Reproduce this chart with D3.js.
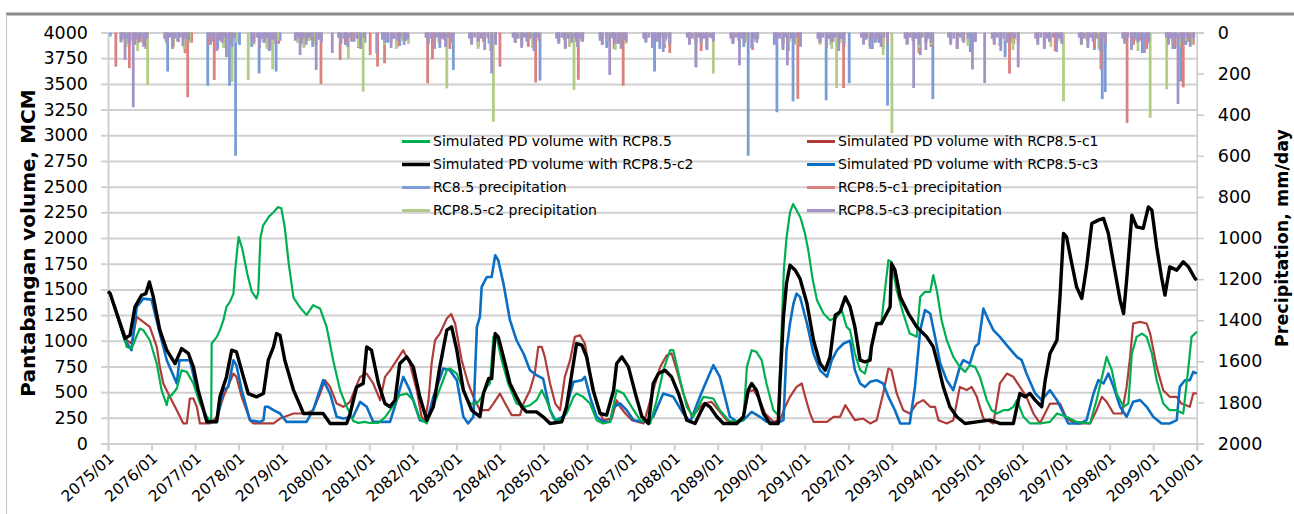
<!DOCTYPE html>
<html>
<head>
<meta charset="utf-8">
<script src="https://cdn.jsdelivr.net/npm/d3@7"></script>
<style>
  body { margin: 0; background: #fff; }
  svg { display: block; }
  text { font-family: "DejaVu Sans", sans-serif; fill: #000; }
</style>
</head>
<body>
<svg width="1294" height="514"></svg>
<script>
const width = 1294;
const height = 514;

const yearTicks = [2075, 2076, 2077, 2078, 2079, 2080, 2081, 2082, 2083, 2084, 2085, 2086, 2087,
    2088, 2089, 2090, 2091, 2092, 2093, 2094, 2095, 2096, 2097, 2098, 2099, 2100];
const volTicks = [0, 250, 500, 750, 1000, 1250, 1500, 1750, 2000, 2250, 2500, 2750, 3000, 3250, 3500, 3750, 4000];
const precipTicks = [0, 200, 400, 600, 800, 1000, 1200, 1400, 1600, 1800, 2000];

// simulated PD volume, [year, MCM]
const volRcp85 = [[2075.00,1480],[2075.05,1460],[2075.39,1000],[2075.43,940],[2075.54,925],[2075.73,1119],[2075.81,1103],[2075.96,1005],[2076.12,778],[2076.23,519],[2076.35,373],[2076.385,454],[2076.46,470],[2076.58,535],[2076.69,713],[2076.81,697],[2076.96,584],[2077.11,389],[2077.27,260],[2077.34,227],[2077.37,230],[2077.38,973],[2077.50,1038],[2077.57,1103],[2077.65,1200],[2077.72,1330],[2077.80,1378],[2077.88,1459],[2077.92,1686],[2077.97,1900],[2078.00,2010],[2078.08,1900],[2078.20,1650],[2078.30,1480],[2078.41,1410],[2078.45,1470],[2078.50,2000],[2078.56,2120],[2078.70,2210],[2078.80,2250],[2078.90,2300],[2078.98,2290],[2079.06,2100],[2079.15,1750],[2079.26,1420],[2079.40,1330],[2079.56,1249],[2079.71,1346],[2079.87,1313],[2080.02,1135],[2080.17,811],[2080.33,519],[2080.48,357],[2080.56,292],[2080.63,220],[2080.75,200],[2080.90,210],[2081.00,200],[2081.20,200],[2081.35,250],[2081.48,324],[2081.70,470],[2081.86,486],[2082.01,421],[2082.16,243],[2082.32,195],[2082.55,454],[2082.78,713],[2082.85,730],[2083.01,681],[2083.16,519],[2083.31,389],[2083.47,389],[2083.58,454],[2083.70,551],[2083.77,584],[2083.85,1038],[2083.92,1038],[2084.04,811],[2084.19,584],[2084.38,389],[2084.58,357],[2084.69,373],[2084.84,421],[2084.96,519],[2085.07,421],[2085.23,243],[2085.38,227],[2085.53,292],[2085.69,454],[2085.76,486],[2085.91,454],[2086.07,389],[2086.22,227],[2086.37,195],[2086.53,211],[2086.68,519],[2086.84,486],[2087.07,324],[2087.22,227],[2087.45,195],[2087.60,421],[2087.75,713],[2087.91,908],[2087.98,908],[2088.14,616],[2088.29,357],[2088.44,260],[2088.67,454],[2088.90,438],[2089.05,324],[2089.28,211],[2089.59,227],[2089.67,746],[2089.78,908],[2089.89,892],[2090.01,811],[2090.12,584],[2090.28,324],[2090.39,276],[2090.47,1135],[2090.52,1700],[2090.58,2000],[2090.66,2250],[2090.73,2330],[2090.80,2280],[2090.90,2200],[2091.00,2050],[2091.08,1881],[2091.18,1600],[2091.28,1394],[2091.43,1265],[2091.58,1200],[2091.74,1232],[2091.85,1297],[2091.96,1135],[2092.04,1103],[2092.15,876],[2092.27,714],[2092.38,681],[2092.50,876],[2092.61,1135],[2092.76,1184],[2092.84,1492],[2092.92,1784],[2092.99,1768],[2093.11,1492],[2093.26,1265],[2093.41,1070],[2093.57,1038],[2093.65,1427],[2093.76,1476],[2093.88,1476],[2093.95,1638],[2094.03,1492],[2094.14,1200],[2094.26,1006],[2094.41,843],[2094.56,746],[2094.68,697],[2094.79,762],[2094.91,746],[2095.02,649],[2095.18,422],[2095.29,324],[2095.41,292],[2095.56,324],[2095.67,324],[2095.79,357],[2095.87,422],[2096.02,260],[2096.17,195],[2096.40,195],[2096.63,210],[2096.79,292],[2097.01,260],[2097.24,210],[2097.55,195],[2097.70,422],[2097.86,714],[2097.93,843],[2098.05,714],[2098.16,487],[2098.32,357],[2098.43,389],[2098.51,876],[2098.62,1038],[2098.74,1070],[2098.85,1038],[2098.97,876],[2099.08,616],[2099.23,389],[2099.38,324],[2099.54,324],[2099.69,292],[2099.81,746],[2099.88,1038],[2100.00,1087]];

const volRcp85c1 = [[2075.00,1480],[2075.05,1460],[2075.43,1005],[2075.54,973],[2075.66,1232],[2075.81,1184],[2075.96,1135],[2076.12,940],[2076.19,746],[2076.27,584],[2076.42,454],[2076.58,324],[2076.73,195],[2076.81,195],[2076.88,438],[2076.96,438],[2077.04,357],[2077.11,195],[2077.34,195],[2077.50,260],[2077.65,454],[2077.88,681],[2077.95,648],[2078.07,454],[2078.26,227],[2078.34,195],[2078.80,195],[2078.95,243],[2079.26,292],[2079.56,292],[2079.71,324],[2079.87,486],[2079.98,616],[2080.10,551],[2080.25,389],[2080.40,357],[2080.56,405],[2080.63,486],[2080.79,648],[2080.94,681],[2081.09,584],[2081.25,421],[2081.36,648],[2081.48,713],[2081.63,811],[2081.78,908],[2081.93,778],[2082.09,519],[2082.20,260],[2082.28,227],[2082.36,421],[2082.43,778],[2082.51,1005],[2082.62,1070],[2082.78,1216],[2082.88,1260],[2082.97,1168],[2083.12,811],[2083.27,584],[2083.39,454],[2083.54,324],[2083.74,324],[2083.85,389],[2084.00,486],[2084.12,389],[2084.27,276],[2084.46,276],[2084.54,389],[2084.69,519],[2084.80,681],[2084.88,940],[2084.96,940],[2085.03,843],[2085.15,584],[2085.27,389],[2085.38,324],[2085.49,648],[2085.61,811],[2085.72,1038],[2085.84,1054],[2085.95,973],[2086.07,681],[2086.22,389],[2086.37,227],[2086.57,243],[2086.68,421],[2086.76,357],[2086.88,292],[2087.03,227],[2087.30,195],[2087.52,519],[2087.68,746],[2087.83,859],[2087.94,876],[2088.06,713],[2088.21,486],[2088.41,260],[2088.67,389],[2088.86,405],[2089.02,324],[2089.21,227],[2089.44,195],[2089.59,260],[2089.70,503],[2089.82,519],[2089.93,454],[2090.09,292],[2090.28,211],[2090.43,227],[2090.55,357],[2090.66,454],[2090.81,551],[2090.93,584],[2091.01,454],[2091.12,292],[2091.20,211],[2091.51,211],[2091.66,260],[2091.81,260],[2091.93,373],[2092.04,300],[2092.15,227],[2092.34,243],[2092.50,195],[2092.65,227],[2092.80,487],[2092.92,730],[2092.99,714],[2093.11,487],[2093.26,324],[2093.41,292],[2093.57,389],[2093.72,422],[2093.88,357],[2093.99,357],[2094.07,227],[2094.26,195],[2094.41,227],[2094.56,551],[2094.72,520],[2094.83,551],[2094.95,454],[2095.10,243],[2095.33,195],[2095.48,584],[2095.64,681],[2095.79,649],[2095.94,551],[2096.09,454],[2096.25,292],[2096.40,195],[2096.63,389],[2096.86,389],[2097.01,243],[2097.24,195],[2097.55,195],[2097.70,324],[2097.82,454],[2097.93,406],[2098.09,292],[2098.28,292],[2098.39,551],[2098.47,843],[2098.54,1168],[2098.70,1184],[2098.85,1168],[2098.93,1070],[2099.08,746],[2099.23,519],[2099.38,454],[2099.54,454],[2099.65,389],[2099.84,357],[2099.92,487],[2100.00,487]];

const volRcp85c2 = [[2075.00,1480],[2075.05,1460],[2075.39,1022],[2075.505,1054],[2075.62,1330],[2075.77,1443],[2075.87,1459],[2075.95,1573],[2076.04,1427],[2076.19,1103],[2076.35,908],[2076.54,778],[2076.69,924],[2076.845,876],[2076.96,746],[2077.07,519],[2077.27,211],[2077.495,211],[2077.57,454],[2077.72,648],[2077.84,908],[2077.95,892],[2078.11,648],[2078.22,486],[2078.41,454],[2078.57,486],[2078.68,811],[2078.80,940],[2078.87,1070],[2078.95,1054],[2079.06,811],[2079.26,519],[2079.49,292],[2079.71,292],[2079.94,292],[2080.10,195],[2080.48,195],[2080.56,292],[2080.71,551],[2080.86,584],[2080.94,940],[2081.05,908],[2081.21,584],[2081.36,389],[2081.475,357],[2081.59,421],[2081.70,778],[2081.86,843],[2082.01,746],[2082.16,454],[2082.32,227],[2082.47,357],[2082.62,746],[2082.78,1103],[2082.89,1135],[2083.01,908],[2083.16,519],[2083.35,324],[2083.54,260],[2083.62,486],[2083.74,632],[2083.81,632],[2083.89,1070],[2083.96,1038],[2084.08,843],[2084.23,584],[2084.38,454],[2084.50,357],[2084.61,308],[2084.84,308],[2084.99,260],[2085.15,195],[2085.42,211],[2085.53,357],[2085.65,681],[2085.76,973],[2085.88,957],[2085.99,843],[2086.14,519],[2086.30,292],[2086.45,276],[2086.61,519],[2086.68,778],[2086.80,843],[2086.95,746],[2087.11,486],[2087.26,260],[2087.41,195],[2087.52,584],[2087.64,681],[2087.79,713],[2087.94,648],[2088.10,486],[2088.29,227],[2088.48,195],[2088.59,292],[2088.71,389],[2088.82,357],[2088.98,260],[2089.13,195],[2089.44,195],[2089.59,260],[2089.70,519],[2089.78,584],[2089.89,519],[2090.05,292],[2090.20,195],[2090.39,195],[2090.43,584],[2090.51,1232],[2090.58,1557],[2090.66,1735],[2090.78,1686],[2090.89,1605],[2091.05,1362],[2091.20,1005],[2091.35,778],[2091.47,713],[2091.58,843],[2091.70,1249],[2091.81,1281],[2091.93,1427],[2092.04,1330],[2092.15,1135],[2092.27,811],[2092.38,795],[2092.50,811],[2092.53,941],[2092.65,1168],[2092.76,1168],[2092.88,1265],[2092.96,1330],[2092.99,1752],[2093.07,1687],[2093.19,1427],[2093.38,1265],[2093.57,1135],[2093.80,1038],[2093.95,941],[2094.07,746],[2094.18,551],[2094.33,357],[2094.49,260],[2094.68,195],[2094.95,211],[2095.25,227],[2095.48,195],[2095.79,195],[2095.87,357],[2095.94,487],[2096.06,454],[2096.17,487],[2096.29,422],[2096.44,357],[2096.52,616],[2096.63,876],[2096.79,1006],[2096.86,1427],[2096.94,2044],[2097.01,2011],[2097.13,1752],[2097.24,1525],[2097.36,1411],[2097.47,1719],[2097.59,2141],[2097.74,2174],[2097.86,2190],[2097.97,2044],[2098.09,1752],[2098.24,1395],[2098.32,1265],[2098.39,1590],[2098.51,2222],[2098.62,2109],[2098.77,2093],[2098.89,2303],[2098.97,2271],[2099.08,1914],[2099.19,1622],[2099.27,1444],[2099.38,1719],[2099.54,1687],[2099.69,1768],[2099.81,1719],[2099.96,1606],[2100.00,1590]];

const volRcp85c3 = [[2075.00,1480],[2075.05,1460],[2075.39,1005],[2075.54,908],[2075.66,1330],[2075.81,1410],[2076.00,1400],[2076.19,1070],[2076.35,810],[2076.58,584],[2076.64,810],[2076.88,810],[2077.04,520],[2077.27,210],[2077.495,210],[2077.65,520],[2077.76,550],[2077.88,810],[2077.95,760],[2078.07,520],[2078.26,227],[2078.49,210],[2078.57,227],[2078.605,357],[2078.68,357],[2078.80,324],[2078.95,292],[2079.10,210],[2079.56,210],[2079.71,324],[2079.94,616],[2080.10,486],[2080.25,260],[2080.40,243],[2080.63,260],[2080.79,405],[2080.94,357],[2081.09,210],[2081.475,210],[2081.63,421],[2081.78,648],[2081.93,520],[2082.16,227],[2082.32,210],[2082.47,454],[2082.70,730],[2082.85,713],[2083.01,616],[2083.16,260],[2083.27,195],[2083.39,260],[2083.47,1135],[2083.54,1232],[2083.58,1524],[2083.70,1621],[2083.81,1621],[2083.89,1832],[2083.96,1784],[2084.08,1557],[2084.23,1200],[2084.38,1005],[2084.54,876],[2084.69,713],[2084.84,665],[2084.99,632],[2085.15,324],[2085.27,227],[2085.46,260],[2085.57,421],[2085.69,600],[2085.88,616],[2085.95,648],[2086.07,454],[2086.22,260],[2086.37,211],[2086.53,211],[2086.61,357],[2086.76,389],[2086.91,324],[2087.07,227],[2087.30,211],[2087.52,260],[2087.75,486],[2087.98,454],[2088.21,292],[2088.37,211],[2088.59,454],[2088.75,616],[2088.90,762],[2089.05,648],[2089.28,260],[2089.44,211],[2089.59,227],[2089.78,308],[2089.97,260],[2090.12,211],[2090.35,195],[2090.51,227],[2090.58,908],[2090.66,1168],[2090.74,1362],[2090.81,1459],[2090.89,1427],[2091.05,1168],[2091.20,876],[2091.35,713],[2091.51,648],[2091.62,811],[2091.74,908],[2091.89,973],[2092.04,1000],[2092.15,714],[2092.27,584],[2092.38,551],[2092.50,600],[2092.65,616],[2092.80,584],[2092.92,454],[2093.07,324],[2093.19,195],[2093.41,195],[2093.53,551],[2093.65,1103],[2093.76,1298],[2093.88,1265],[2093.99,1038],[2094.11,778],[2094.26,616],[2094.41,519],[2094.56,746],[2094.64,811],[2094.79,778],[2094.91,941],[2094.99,973],[2095.10,1314],[2095.22,1200],[2095.33,1103],[2095.48,1038],[2095.67,941],[2095.87,843],[2095.98,811],[2096.09,681],[2096.29,487],[2096.44,422],[2096.63,519],[2096.79,422],[2096.94,292],[2097.05,195],[2097.32,195],[2097.47,227],[2097.63,487],[2097.74,616],[2097.86,584],[2097.97,681],[2098.09,551],[2098.24,357],[2098.39,260],[2098.54,406],[2098.70,422],[2098.85,357],[2099.00,260],[2099.19,195],[2099.38,195],[2099.54,227],[2099.61,551],[2099.73,616],[2099.84,616],[2099.92,697],[2100.00,681]];

// precipitation, [year, mm/day]
const precipRc85 = [[2075.05,20],[2075.32,35],[2075.47,55],[2075.6,30],[2075.72,45],[2075.88,25],
    [2076.33,40],[2076.37,190],[2076.5,60],[2076.62,35],[2076.74,70],[2076.9,30],
    [2077.29,259],[2077.4,45],[2077.52,80],[2077.63,40],[2077.79,259],[2077.93,600],[2078.02,60],
    [2078.3,70],[2078.47,199],[2078.58,50],[2078.7,90],[2078.86,190],[2078.95,40],
    [2079.32,30],[2079.45,55],[2079.6,40],[2079.7,70],[2079.85,35],
    [2080.3,25],[2080.45,60],[2080.6,45],[2080.75,30],[2080.9,50],
    [2081.3,35],[2081.42,50],[2081.55,30],[2081.7,65],[2081.85,40],
    [2082.35,60],[2082.5,30],[2082.62,75],[2082.78,40],[2082.93,182],
    [2083.35,45],[2083.5,70],[2083.62,30],[2083.75,55],[2083.83,140],[2083.9,60],
    [2084.35,30],[2084.5,65],[2084.65,40],[2084.8,80],[2084.92,234],
    [2085.35,50],[2085.48,35],[2085.6,70],[2085.75,45],[2085.9,30],
    [2086.3,40],[2086.45,75],[2086.6,30],[2086.72,55],[2086.88,35],
    [2087.35,45],[2087.55,190],[2087.67,80],[2087.8,40],[2087.9,60],
    [2088.35,30],[2088.5,60],[2088.62,45],[2088.75,85],[2088.9,35],
    [2089.35,55],[2089.48,40],[2089.6,70],[2089.70,600],[2089.82,45],[2089.92,30],
    [2090.3,60],[2090.36,388],[2090.5,50],[2090.62,90],[2090.73,335],[2090.88,45],
    [2091.35,40],[2091.49,330],[2091.6,60],[2091.75,45],[2091.9,70],
    [2092.02,246],[2092.4,35],[2092.55,80],[2092.7,50],[2092.9,356],
    [2093.35,60],[2093.5,45],[2093.65,110],[2093.8,40],[2093.94,324],
    [2094.35,50],[2094.5,70],[2094.65,35],[2094.8,95],[2094.9,45],
    [2095.35,40],[2095.48,65],[2095.6,120],[2095.75,50],[2095.9,35],
    [2096.35,30],[2096.5,55],[2096.62,40],[2096.78,75],[2096.9,45],
    [2097.35,60],[2097.5,40],[2097.65,85],[2097.83,324],[2097.9,290],
    [2098.35,50],[2098.5,70],[2098.62,40],[2098.75,100],[2098.88,55],
    [2099.35,45],[2099.5,80],[2099.63,239],[2099.75,60],[2099.9,40]];

const precipRcp85c1 = [[2075.18,166],[2075.3,40],[2075.49,174],[2075.62,60],[2075.75,45],[2075.87,80],
    [2076.35,35],[2076.5,70],[2076.62,45],[2076.77,101],[2076.83,315],[2076.92,50],
    [2077.32,60],[2077.44,231],[2077.58,40],[2077.7,75],[2077.85,35],
    [2078.35,45],[2078.5,30],[2078.65,65],[2078.8,40],[2078.92,55],
    [2079.35,40],[2079.5,70],[2079.65,35],[2079.78,60],[2079.89,251],
    [2080.33,134],[2080.45,50],[2080.6,40],[2080.75,75],[2080.88,35],
    [2081.02,110],[2081.19,166],[2081.35,150],[2081.5,45],[2081.65,70],[2081.8,40],
    [2082.34,247],[2082.45,130],[2082.6,50],[2082.72,35],[2082.85,80],
    [2083.35,40],[2083.5,65],[2083.62,45],[2083.75,30],[2083.9,55],
    [2084.0,166],[2084.35,50],[2084.5,35],[2084.65,70],[2084.82,243],
    [2085.35,45],[2085.5,75],[2085.62,40],[2085.8,230],[2085.9,35],
    [2086.35,60],[2086.48,40],[2086.62,80],[2086.75,45],[2086.83,259],
    [2087.35,35],[2087.5,60],[2087.65,40],[2087.78,75],[2087.9,100],
    [2088.35,55],[2088.5,40],[2088.62,90],[2088.75,45],[2088.88,30],
    [2089.35,40],[2089.5,70],[2089.62,50],[2089.8,85],[2089.9,35],
    [2090.35,45],[2090.5,60],[2090.65,40],[2090.84,324],[2090.9,60],
    [2091.35,50],[2091.5,75],[2091.65,45],[2091.78,60],[2091.89,270],
    [2092.35,40],[2092.5,65],[2092.65,35],[2092.8,80],[2092.9,50],
    [2093.35,55],[2093.48,40],[2093.62,100],[2093.78,50],[2093.9,70],
    [2094.35,45],[2094.5,80],[2094.62,40],[2094.75,60],[2094.9,35],
    [2095.35,60],[2095.5,45],[2095.7,200],[2095.8,55],[2095.9,40],
    [2096.35,40],[2096.5,70],[2096.62,45],[2096.75,90],[2096.9,35],
    [2097.35,55],[2097.5,40],[2097.65,75],[2097.8,180],[2097.9,50],
    [2098.35,45],[2098.40,440],[2098.55,60],[2098.7,40],[2098.85,80],
    [2099.35,50],[2099.5,70],[2099.69,267],[2099.8,45],[2099.92,60]];

const precipRcp85c2 = [[2075.3,50],[2075.42,70],[2075.55,40],[2075.68,90],[2075.8,55],[2075.91,255],
    [2076.35,45],[2076.5,65],[2076.62,35],[2076.75,80],[2076.88,50],
    [2077.35,60],[2077.5,40],[2077.65,75],[2077.85,240],[2077.95,50],
    [2078.22,231],[2078.35,60],[2078.5,45],[2078.65,80],[2078.78,180],[2078.9,40],
    [2079.35,50],[2079.5,75],[2079.62,40],[2079.75,60],[2079.9,35],
    [2080.35,45],[2080.52,130],[2080.65,40],[2080.75,70],[2080.86,288],
    [2081.35,60],[2081.5,45],[2081.62,80],[2081.75,40],[2081.9,55],
    [2082.35,40],[2082.5,65],[2082.62,45],[2082.78,272],[2082.9,50],
    [2083.35,55],[2083.5,80],[2083.65,40],[2083.78,90],[2083.85,434],
    [2084.35,45],[2084.5,60],[2084.62,40],[2084.75,75],[2084.9,35],
    [2085.35,50],[2085.5,40],[2085.6,70],[2085.70,279],[2085.85,45],
    [2086.35,60],[2086.5,45],[2086.65,85],[2086.78,40],[2086.9,55],
    [2087.35,40],[2087.5,70],[2087.62,45],[2087.78,60],[2087.9,35],
    [2088.35,55],[2088.50,166],[2088.62,50],[2088.75,80],[2088.9,200],
    [2089.35,45],[2089.5,70],[2089.65,40],[2089.8,60],[2089.9,35],
    [2090.35,50],[2090.5,75],[2090.65,45],[2090.8,60],[2090.9,40],
    [2091.35,60],[2091.5,45],[2091.62,80],[2091.73,270],[2091.85,50],
    [2092.35,45],[2092.5,70],[2092.65,40],[2092.8,110],[2093.0,490],
    [2093.35,55],[2093.5,40],[2093.62,75],[2093.78,45],[2093.9,60],
    [2094.35,50],[2094.5,80],[2094.62,40],[2094.75,65],[2094.9,35],
    [2095.35,45],[2095.5,60],[2095.62,40],[2095.78,85],[2095.9,50],
    [2096.35,55],[2096.5,40],[2096.65,70],[2096.8,45],[2096.94,335],
    [2097.35,45],[2097.5,65],[2097.62,40],[2097.75,80],[2097.9,50],
    [2098.35,55],[2098.5,40],[2098.65,90],[2098.8,45],[2098.93,415],
    [2099.31,276],[2099.45,50],[2099.6,70],[2099.75,40],[2099.88,60]];

const precipRcp85c3 = [[2075.3,45],[2075.36,25],[2075.39,134],[2075.45,30],[2075.5,60],[2075.58,364],[2075.64,35],[2075.7,50],[2075.76,25],[2075.82,70],[2075.9,30],
    [2076.3,30],[2076.35,55],[2076.42,25],[2076.48,80],[2076.54,30],[2076.6,45],[2076.66,25],[2076.72,65],[2076.78,30],[2076.85,40],
    [2077.3,25],[2077.35,60],[2077.42,30],[2077.5,90],[2077.56,35],[2077.62,50],[2077.67,25],[2077.72,120],[2077.78,30],[2077.85,70],[2077.9,25],
    [2078.3,30],[2078.35,50],[2078.42,25],[2078.48,75],[2078.54,30],[2078.6,45],[2078.66,25],[2078.72,85],[2078.78,35],[2078.85,55],
    [2079.3,40],[2079.36,25],[2079.41,110],[2079.48,30],[2079.55,60],[2079.62,25],[2079.7,45],[2079.78,182],[2079.84,30],[2079.9,50],
    [2080.15,100],[2080.3,25],[2080.35,55],[2080.42,30],[2080.5,70],[2080.57,25],[2080.65,45],[2080.72,30],[2080.8,80],[2080.88,25],
    [2081.17,100],[2081.3,30],[2081.35,50],[2081.42,25],[2081.5,75],[2081.57,30],[2081.65,40],[2081.72,25],[2081.8,60],[2081.88,30],
    [2082.3,25],[2082.35,55],[2082.42,30],[2082.5,80],[2082.56,25],[2082.62,45],[2082.68,30],[2082.75,70],[2082.82,25],[2082.9,50],
    [2083.3,30],[2083.35,60],[2083.42,25],[2083.5,45],[2083.57,30],[2083.65,85],[2083.72,25],[2083.81,199],[2083.9,55],
    [2084.3,25],[2084.35,50],[2084.42,30],[2084.5,75],[2084.56,25],[2084.62,45],[2084.7,30],[2084.78,90],[2084.84,25],[2084.9,40],
    [2085.3,30],[2085.35,55],[2085.42,25],[2085.5,80],[2085.57,30],[2085.65,50],[2085.72,25],[2085.78,70],[2085.84,30],[2085.9,45],
    [2086.3,25],[2086.35,60],[2086.44,30],[2086.52,206],[2086.58,25],[2086.65,55],[2086.72,30],[2086.78,80],[2086.84,25],[2086.9,45],
    [2087.3,30],[2087.35,50],[2087.42,25],[2087.5,75],[2087.56,30],[2087.62,45],[2087.68,25],[2087.75,95],[2087.82,30],[2087.9,55],
    [2088.3,25],[2088.35,60],[2088.42,30],[2088.5,170],[2088.56,25],[2088.62,50],[2088.68,30],[2088.75,80],[2088.82,25],[2088.9,45],
    [2089.3,30],[2089.35,55],[2089.42,25],[2089.5,160],[2089.56,30],[2089.62,45],[2089.7,25],[2089.78,75],[2089.84,30],[2089.9,50],
    [2090.3,25],[2090.35,60],[2090.42,30],[2090.5,85],[2090.55,25],[2090.6,160],[2090.68,30],[2090.75,55],[2090.82,25],[2090.9,70],
    [2091.3,30],[2091.35,50],[2091.42,25],[2091.5,75],[2091.56,30],[2091.62,45],[2091.7,25],[2091.78,90],[2091.84,30],[2091.9,55],
    [2092.3,25],[2092.35,60],[2092.42,30],[2092.5,80],[2092.56,25],[2092.62,50],[2092.68,30],[2092.75,70],[2092.82,25],[2092.9,45],
    [2093.3,30],[2093.35,55],[2093.42,25],[2093.5,270],[2093.56,30],[2093.62,60],[2093.7,25],[2093.78,85],[2093.84,30],[2093.9,50],
    [2094.3,25],[2094.35,60],[2094.42,30],[2094.5,80],[2094.57,25],[2094.65,50],[2094.75,30],[2094.85,180],[2094.92,45],
    [2095.13,246],[2095.3,30],[2095.35,55],[2095.42,25],[2095.5,90],[2095.57,30],[2095.65,50],[2095.75,25],[2095.82,30],[2095.9,170],
    [2096.3,30],[2096.35,60],[2096.42,25],[2096.5,80],[2096.56,30],[2096.62,45],[2096.7,25],[2096.78,95],[2096.84,30],[2096.9,55],
    [2097.3,25],[2097.35,50],[2097.42,30],[2097.5,75],[2097.56,25],[2097.62,45],[2097.7,30],[2097.78,90],[2097.84,25],[2097.9,60],
    [2098.3,30],[2098.35,55],[2098.42,25],[2098.5,85],[2098.57,30],[2098.65,50],[2098.72,25],[2098.8,100],[2098.85,30],[2098.9,45],
    [2099.3,25],[2099.35,60],[2099.4,30],[2099.45,80],[2099.51,25],[2099.57,348],[2099.64,30],[2099.7,55],[2099.78,25],[2099.85,70],[2099.93,30]];

const svg = d3.select("svg");

const x = d3.scaleLinear().domain([2075, 2100]).range([108, 1196.75]);
const yVol = d3.scaleLinear().domain([0, 4000]).range([443.5, 32.5]);
const yPre = d3.scaleLinear().domain([0, 2000]).range([32.5, 443.5]);

// outer frame of the figure
svg.append("line").attr("x1", 6).attr("x2", width).attr("y1", 14).attr("y2", 14)
    .attr("stroke", "#8c8c8c").attr("stroke-width", 3);
svg.append("line").attr("x1", 6.5).attr("x2", 6.5).attr("y1", 14).attr("y2", height)
    .attr("stroke", "#c4c4c4").attr("stroke-width", 1);

// horizontal gridlines
svg.append("g")
    .attr("transform", `translate(${x.range()[0]},0)`)
    .call(d3.axisLeft(yVol).tickValues(volTicks.slice(1)).tickSize(-(x.range()[1] - x.range()[0])).tickFormat(""))
    .call((g) => g.select(".domain").remove())
    .call((g) => g.selectAll(".tick line").attr("stroke", "#d0d0d0").attr("stroke-width", 2));

// precipitation bars hanging from the top
const precipSeries = [
    { data: precipRc85, color: "#7b9cd4" },
    { data: precipRcp85c1, color: "#d9827f" },
    { data: precipRcp85c2, color: "#b3cd88" },
    { data: precipRcp85c3, color: "#a393c8" },
];
precipSeries.forEach((s) => {
    svg.append("g")
        .selectAll("rect")
        .data(s.data)
        .join("rect")
        .attr("x", (d) => x(d[0]) - 1.4)
        .attr("width", 2.8)
        .attr("y", yPre(0))
        .attr("height", (d) => yPre(d[1]) - yPre(0))
        .attr("fill", s.color);
});

// left axis
const leftAxis = svg.append("g")
    .attr("transform", `translate(${x.range()[0]},0)`)
    .call(d3.axisLeft(yVol).tickValues(volTicks).tickSize(7).tickPadding(13).tickFormat((d) => d));
leftAxis.select(".domain").attr("stroke", "#d0d0d0").attr("stroke-width", 2);
leftAxis.selectAll(".tick line").attr("stroke", "#d0d0d0").attr("stroke-width", 2);
leftAxis.selectAll(".tick text").style("font-size", "17.5px").attr("fill", "#000");

// right axis
const rightAxis = svg.append("g")
    .attr("transform", `translate(${x.range()[1]},0)`)
    .call(d3.axisRight(yPre).tickValues(precipTicks).tickSize(7).tickPadding(14).tickFormat((d) => d));
rightAxis.select(".domain").attr("stroke", "#c8c8c8").attr("stroke-width", 1.5);
rightAxis.selectAll(".tick line").attr("stroke", "#c8c8c8").attr("stroke-width", 1.5);
rightAxis.selectAll(".tick text").style("font-size", "17.5px").attr("fill", "#000");

// bottom axis
const bottomAxis = svg.append("g")
    .attr("transform", `translate(0,${yVol(0)})`)
    .call(d3.axisBottom(x).tickValues(yearTicks).tickSize(7).tickFormat((d) => `${d}/01`));
bottomAxis.select(".domain").attr("stroke", "#d0d0d0").attr("stroke-width", 2);
bottomAxis.selectAll(".tick line").attr("stroke", "#d0d0d0").attr("stroke-width", 2);
bottomAxis.selectAll(".tick text")
    .attr("x", 0).attr("y", 0).attr("dy", "0.35em")
    .attr("transform", "translate(3,12) rotate(-42)")
    .attr("text-anchor", "end")
    .style("font-size", "15.5px").attr("fill", "#000");

// volume lines
const line = d3.line().x((d) => x(d[0])).y((d) => yVol(d[1]));
const volSeries = [
    { data: volRcp85c1, color: "#b03c3a", width: 2.2 },
    { data: volRcp85c3, color: "#0a6fc4", width: 2.6 },
    { data: volRcp85, color: "#00b050", width: 2.2 },
    { data: volRcp85c2, color: "#000000", width: 3.4 },
];
volSeries.forEach((s) => {
    svg.append("path")
        .datum(s.data)
        .attr("fill", "none")
        .attr("stroke", s.color)
        .attr("stroke-width", s.width)
        .attr("stroke-linejoin", "round")
        .attr("d", line);
});

// legend
const legendItems = [
    { label: "Simulated PD volume with RCP8.5", color: "#00b050", w: 3, col: 0, row: 0 },
    { label: "Simulated PD volume with RCP8.5-c1", color: "#b03c3a", w: 3, col: 1, row: 0 },
    { label: "Simulated PD volume with RCP8.5-c2", color: "#000000", w: 3.5, col: 0, row: 1 },
    { label: "Simulated PD volume with RCP8.5-c3", color: "#0a6fc4", w: 3, col: 1, row: 1 },
    { label: "RC8.5 precipitation", color: "#7b9cd4", w: 3, col: 0, row: 2 },
    { label: "RCP8.5-c1 precipitation", color: "#d9827f", w: 3, col: 1, row: 2 },
    { label: "RCP8.5-c2 precipitation", color: "#b3cd88", w: 3, col: 0, row: 3 },
    { label: "RCP8.5-c3 precipitation", color: "#a393c8", w: 3, col: 1, row: 3 },
];
const legendCols = [402, 807];
const legend = svg.append("g")
    .selectAll("g")
    .data(legendItems)
    .join("g")
    .attr("transform", (d) => `translate(${legendCols[d.col]},${141.5 + d.row * 23})`);
legend.append("line")
    .attr("x1", 0).attr("x2", 28)
    .attr("stroke", (d) => d.color)
    .attr("stroke-width", (d) => d.w);
legend.append("text")
    .attr("x", 31).attr("dy", "0.35em")
    .style("font-size", "14px")
    .attr("fill", "#333")
    .text((d) => d.label);

// axis titles
svg.append("text")
    .attr("transform", "translate(35,243) rotate(-90)")
    .attr("text-anchor", "middle")
    .style("font-size", "20px").style("font-weight", "bold")
    .text("Pantabangan volume, MCM");
svg.append("text")
    .attr("transform", "translate(1288,238) rotate(-90)")
    .attr("text-anchor", "middle")
    .style("font-size", "17.5px").style("font-weight", "bold")
    .text("Precipitation, mm/day");
</script>
</body>
</html>
